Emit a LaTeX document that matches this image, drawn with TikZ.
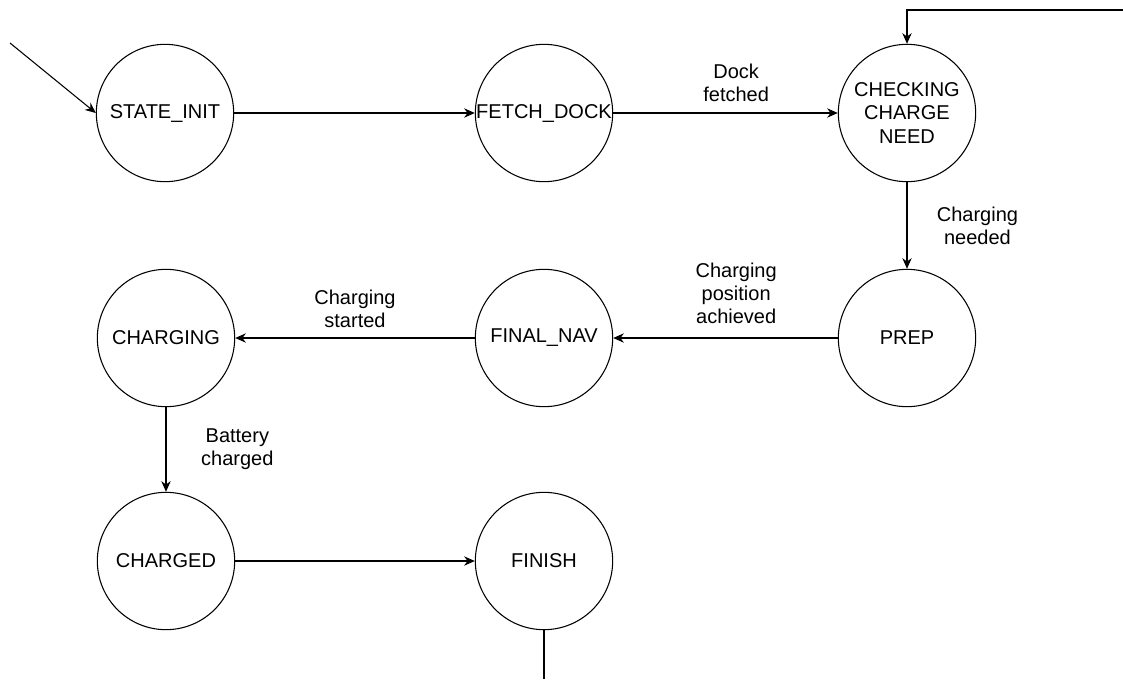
\documentclass[tikz,border=0pt]{standalone}
\usepackage{fontspec}
\setmainfont{Liberation Sans}
\usepackage{tikz}
\usetikzlibrary{positioning,arrows.meta}

\begin{document}
\begin{tikzpicture}[
    x=0.75pt, y=-0.75pt,
    state/.style={draw, circle, line width=0.8pt, minimum size=103pt, inner sep=0pt, align=center, font=\fontsize{15}{17.3}\selectfont},
    arrow/.style={-{Stealth[length=8pt,width=7pt]}, line width=0.8pt},
    lbl/.style={font=\fontsize{15}{17.3}\selectfont, align=center, inner sep=2pt},
]
\useasboundingbox (0,0) rectangle (1123,679);

\node[state] (init) at (165,113) {STATE\_INIT};
\node[state] (fetch) at (544,113) {FETCH\_DOCK};
\node[state] (check) at (907,113) {CHECKING\\CHARGE\\NEED};
\node[state] (prep) at (907,338) {PREP};
\node[state] (finalnav) at (544,338) {FINAL\_NAV};
\node[state] (charging) at (166,338) {CHARGING};
\node[state] (charged) at (166,561) {CHARGED};
\node[state] (finish) at (544,561) {FINISH};

\coordinate (start) at (10,43);
\coordinate (loopin) at (1123,10);
\coordinate (done) at (544,679);

\draw[arrow] (start) -- (init.west);
\draw[arrow] (init) -- (fetch);
\draw[arrow] (fetch) -- node[lbl, above=6pt, xshift=8pt] {Dock\\fetched} (check);
\draw[arrow] (loopin) -| (check);
\draw[arrow] (check) -- node[lbl, right=20pt] {Charging\\needed} (prep);
\draw[arrow] (prep) -- node[lbl, above=8pt, xshift=8pt] {Charging\\position\\achieved} (finalnav);
\draw[arrow] (finalnav) -- node[lbl, above=5pt] {Charging\\started} (charging);
\draw[arrow] (charging) -- node[lbl, right=24pt] {Battery\\charged} (charged);
\draw[arrow] (charged) -- (finish);
\draw[line width=0.8pt] (finish) -- (done);

\end{tikzpicture}
\end{document}
